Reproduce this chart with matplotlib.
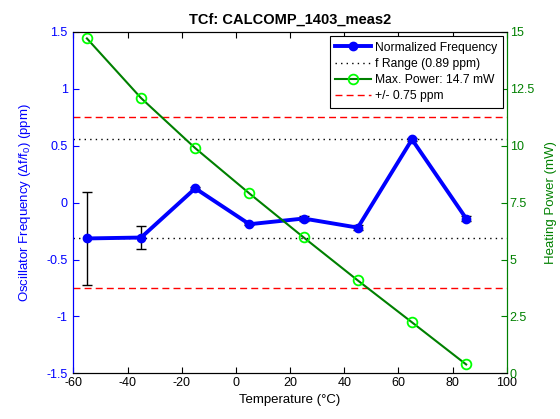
import matplotlib
matplotlib.use("Agg")
import matplotlib.pyplot as plt
from matplotlib.ticker import FuncFormatter
from matplotlib.lines import Line2D

plt.rcParams['font.family'] = ['Liberation Sans', 'DejaVu Sans']
plt.rcParams['mathtext.fontset'] = 'custom'
plt.rcParams['mathtext.rm'] = 'Liberation Sans'
plt.rcParams['mathtext.it'] = 'Liberation Sans'
plt.rcParams['axes.unicode_minus'] = False

temps = [-55, -35, -15, 5, 25, 45, 65, 85]
freq = [-0.315, -0.307, 0.125, -0.19, -0.14, -0.22, 0.555, -0.14]
freq_err = [0.405, 0.103, 0.01, 0.01, 0.02, 0.02, 0.01, 0.02]
power = [14.71, 12.09, 9.89, 7.90, 5.97, 4.08, 2.24, 0.39]
limit = 0.75
f_min = min(freq)
f_max = max(freq)

title = "TCf: CALCOMP_1403_meas2"
xlabel = "Temperature (\u00b0C)"
ylabel_left = r"Oscillator Frequency ($\Delta$f/f$_0$) (ppm)"
ylabel_right = "Heating Power (mW)"
legend_labels = ["Normalized Frequency", "f Range (0.89 ppm)", "Max. Power: 14.7 mW", "+/- 0.75 ppm"]

blue = (0, 0, 1)
dgreen = (0, 0.5, 0)
lgreen = (0, 1, 0)

fig = plt.figure(figsize=(5.6, 4.19), dpi=100)
ax = fig.add_axes([0.131, 0.109, 0.774, 0.815])
ax2 = ax.twinx()

fs = 9
ax.errorbar(temps, freq, yerr=freq_err, color=blue, lw=2.8, marker='o', ms=6,
            ecolor='black', elinewidth=1, capsize=3.5, zorder=3)
ax.axhline(f_min, color='black', ls=(0, (1, 3)), lw=1)
ax.axhline(f_max, color='black', ls=(0, (1, 3)), lw=1)
ax.axhline(limit, color='red', ls=(0, (5, 3)), lw=1)
ax.axhline(-limit, color='red', ls=(0, (5, 3)), lw=1)

ax2.plot(temps, power, color=dgreen, lw=1.5, marker='o', ms=7, mfc='none',
         mec=lgreen, mew=1.3)

ax.set_xlim(-60, 100)
ax.set_ylim(-1.5, 1.5)
ax2.set_ylim(0, 15)
ax.set_xticks(range(-60, 101, 20))
ax.set_yticks([-1.5, -1, -0.5, 0, 0.5, 1, 1.5])
ax2.set_yticks([0, 2.5, 5, 7.5, 10, 12.5, 15])
fmt = FuncFormatter(lambda v, p: "%g" % v)
ax.yaxis.set_major_formatter(fmt)
ax2.yaxis.set_major_formatter(fmt)

ax.tick_params(axis='x', direction='in', top=True, labelsize=fs, colors='black', length=4, pad=3)
ax.tick_params(axis='y', direction='in', labelsize=fs, colors=blue, length=4, pad=4)
ax2.tick_params(axis='y', direction='in', labelsize=fs, colors=dgreen, length=4, pad=2)
ax2.spines['left'].set_color(blue)
ax2.spines['right'].set_color(dgreen)
ax.spines['left'].set_color(blue)
ax.spines['right'].set_color(dgreen)

ax.set_xlabel(xlabel, fontsize=9.5, labelpad=3)
ax.set_ylabel(ylabel_left, fontsize=9.5, color=blue, labelpad=10)
ax2.set_ylabel(ylabel_right, fontsize=9.5, color=dgreen, labelpad=8)
ax.set_title(title, fontsize=10.5, fontweight='bold', pad=6)

handles = [
    Line2D([], [], color=blue, lw=2.8, marker='o', ms=6),
    Line2D([], [], color='black', ls=(0, (1, 3)), lw=1),
    Line2D([], [], color=dgreen, lw=1.5, marker='o', ms=7, mfc='none', mec=lgreen, mew=1.3),
    Line2D([], [], color='red', ls=(0, (5, 3)), lw=1),
]
leg = ax2.legend(handles, legend_labels, loc='upper right', fontsize=8.7, frameon=True,
                 fancybox=False, edgecolor='black', framealpha=1, borderaxespad=0.35,
                 handlelength=3.0, handletextpad=0.3, labelspacing=0.35, borderpad=0.45)
leg.get_frame().set_linewidth(0.8)

fig.savefig("out.png", dpi=100)
